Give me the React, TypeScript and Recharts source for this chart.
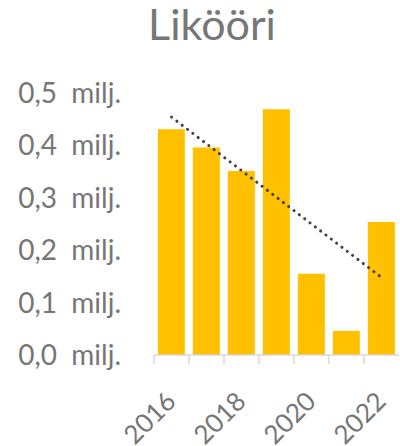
import React from "react";
import { ComposedChart, Bar, Line, XAxis, YAxis } from "recharts";

const years = ["2016", "2017", "2018", "2019", "2020", "2021", "2022"];
const sales = [0.431, 0.396, 0.351, 0.469, 0.155, 0.046, 0.254];
const trend: (number | null)[] = [0.454, null, null, null, null, null, 0.148];
const yTicks = [0, 0.1, 0.2, 0.3, 0.4, 0.5];
const labelledYears = ["2016", "2018", "2020", "2022"];

const data = years.map((y, i) => ({ year: y, sales: sales[i], trend: trend[i] }));

const FONT = "Lato, 'Open Sans', sans-serif";
const GREY = "#767676";

const YTick = (props: any) => {
  const { x, y, payload } = props;
  const v = (payload.value as number).toFixed(1).replace(".", ",");
  return (
    <text x={x - 25} y={y} dy={10} textAnchor="end" fontSize={28} fill={GREY} fontFamily={FONT} xmlSpace="preserve" style={{ whiteSpace: "pre" }}>
      {v + "  milj."}
    </text>
  );
};

const XTick = (props: any) => {
  const { x, y, payload } = props;
  const half = 17.5;
  const show = labelledYears.includes(payload.value);
  const ax = x + 6;
  const ay = y + 40;
  return (
    <g>
      <line x1={x - half} y1={y - 8} x2={x - half} y2={y + 1} stroke="#d9d9d9" strokeWidth={1.5} />
      {show && (
        <text
          x={ax}
          y={ay}
          textAnchor="end"
          fontSize={26}
          fill={GREY}
          fontFamily={FONT}
          transform={`rotate(-45, ${ax}, ${ay})`}
        >
          {payload.value}
        </text>
      )}
    </g>
  );
};

export default function App() {
  return (
    <div style={{ position: "absolute", left: 0, top: 0, width: 400, height: 446, background: "#fff" }}>
      <div style={{ position: "absolute", left: 0, top: 0 }}>
        <ComposedChart
          width={400}
          height={446}
          data={data}
          margin={{ top: 93, right: 1, bottom: 0, left: 0 }}
          barCategoryGap="11%"
        >
          <XAxis
            dataKey="year"
            interval={0}
            tickLine={false}
            axisLine={{ stroke: "#d9d9d9", strokeWidth: 1.5 }}
            tick={<XTick />}
            height={91}
          />
          <YAxis
            domain={[0, 0.5]}
            ticks={yTicks}
            width={154}
            axisLine={false}
            tickLine={false}
            tick={<YTick />}
          />
          <Bar dataKey="sales" fill="#FFC000" isAnimationActive={false} />
          <Line
            dataKey="trend"
            connectNulls
            stroke="#404040"
            strokeWidth={3}
            strokeDasharray="0.1 6.6"
            strokeLinecap="round"
            dot={false}
            activeDot={false}
            isAnimationActive={false}
          />
        </ComposedChart>
      </div>
      <svg width={400} height={80} style={{ position: "absolute", left: 0, top: 0 }}>
        <text x={212} y={40} textAnchor="middle" fontSize={43} fill={GREY} fontFamily={FONT}>
          Likööri
        </text>
      </svg>
    </div>
  );
}
